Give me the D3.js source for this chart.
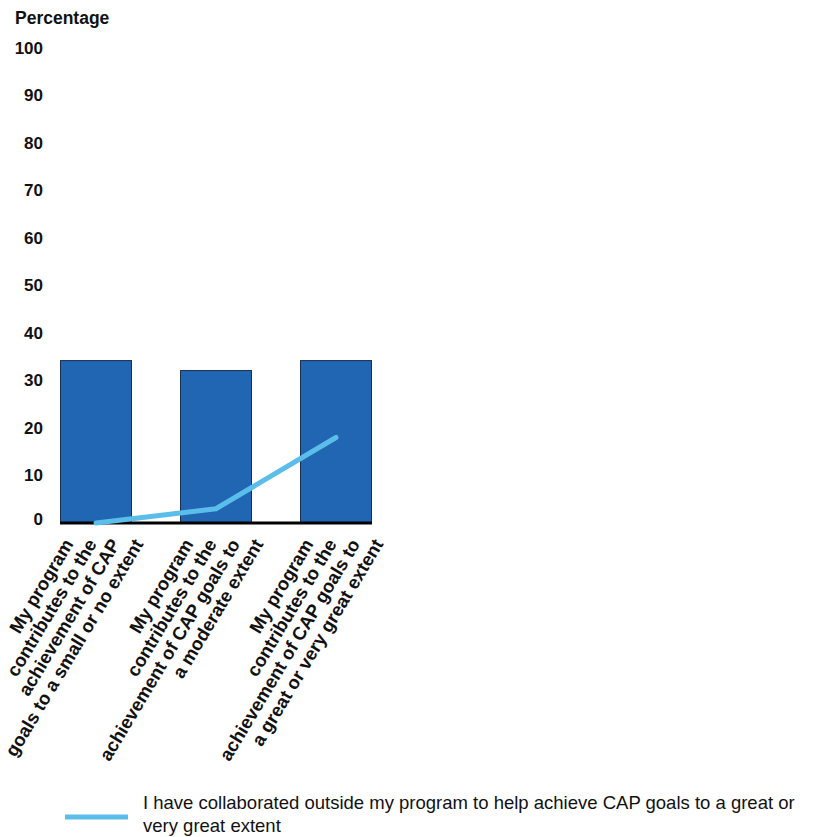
<!DOCTYPE html>
<html>
<head>
<meta charset="utf-8">
<script src="https://cdn.jsdelivr.net/npm/d3@7"></script>
<style>
  html, body { margin: 0; padding: 0; background: #fff; }
  svg { display: block; font-family: "Liberation Sans", Arial, sans-serif; }
</style>
</head>
<body>
<svg id="chart" width="814" height="837"></svg>
<script>
// Category labels, one array of wrapped lines per category
const categories = [
  ["My program", "contributes to the", "achievement of CAP", "goals to a small or no extent"],
  ["My program", "contributes to the", "achievement of CAP goals to", "a moderate extent"],
  ["My program", "contributes to the", "achievement of CAP goals to", "a great or very great extent"]
];
// Share of respondents per category (bars)
const barValues = [34.3, 32.2, 34.3];
// Share who collaborated outside their program (line)
const lineValues = [0, 3, 18];
const yTicks = [0, 10, 20, 30, 40, 50, 60, 70, 80, 90, 100];
const yTitle = "Percentage";
const legendLines = [
  "I have collaborated outside my program to help achieve CAP goals to a great or",
  "very great extent"
];

const barColor = "#2066b2";
const barStroke = "#1a2f4d";
const lineColor = "#5bbdea";

const svg = d3.select("#chart");

const x = d3.scaleBand()
  .domain(d3.range(categories.length))
  .range([60, 372])
  .paddingInner(0.4)
  .paddingOuter(0);

const y = d3.scaleLinear()
  .domain([0, 100])
  .range([523, 48]);

// Y axis title
svg.append("text")
  .attr("x", 15)
  .attr("y", 24)
  .attr("font-size", 17.5)
  .attr("font-weight", "bold")
  .attr("fill", "#111")
  .text(yTitle);

// Y axis: labels only
const yAxis = svg.append("g")
  .attr("transform", "translate(43,0)")
  .call(d3.axisLeft(y).tickValues(yTicks).tickSize(0).tickPadding(0).tickFormat(d3.format("d")));
yAxis.select(".domain").remove();
yAxis.selectAll("text")
  .attr("font-size", 17)
  .attr("font-weight", "bold")
  .attr("fill", "#111")
  .attr("font-family", "Liberation Sans, Arial, sans-serif")
  .attr("dy", d => d === 0 ? "0.08em" : "0.32em");

// Bars
svg.append("g")
  .selectAll("rect")
  .data(barValues)
  .join("rect")
  .attr("x", (d, i) => x(i) + 0.5)
  .attr("y", d => y(d) + 0.5)
  .attr("width", x.bandwidth() - 1)
  .attr("height", d => y(0) - y(d) - 0.5)
  .attr("fill", barColor)
  .attr("stroke", barStroke)
  .attr("stroke-width", 1);

// Baseline
svg.append("line")
  .attr("x1", x.range()[0])
  .attr("x2", x.range()[1])
  .attr("y1", y(0))
  .attr("y2", y(0))
  .attr("stroke", "#000")
  .attr("stroke-width", 3);

// Line series
const line = d3.line()
  .x((d, i) => x(i) + x.bandwidth() / 2)
  .y(d => y(d));
svg.append("path")
  .datum(lineValues)
  .attr("d", line)
  .attr("fill", "none")
  .attr("stroke", lineColor)
  .attr("stroke-width", 5)
  .attr("stroke-linecap", "round")
  .attr("stroke-linejoin", "round");

// Rotated category labels; line ends sit along a horizontal edge under the axis
const angle = 59;
const rad = angle * Math.PI / 180;
const lh = 20;
const labels = svg.append("g")
  .selectAll("g")
  .data(categories)
  .join("g")
  .attr("transform", (d, i) => `translate(${x(i) + x.bandwidth() / 2 - 22},544) rotate(${-angle})`);
labels.selectAll("text")
  .data(d => d)
  .join("text")
  .attr("x", (d, i) => i * lh / Math.tan(rad))
  .attr("y", (d, i) => i * lh)
  .attr("text-anchor", "end")
  .attr("font-size", 18.5)
  .attr("font-weight", "bold")
  .attr("fill", "#111")
  .text(d => d);

// Legend
const legend = svg.append("g");
legend.append("line")
  .attr("x1", 65).attr("x2", 128)
  .attr("y1", 817).attr("y2", 817)
  .attr("stroke", lineColor)
  .attr("stroke-width", 5);
legend.selectAll("text")
  .data(legendLines)
  .join("text")
  .attr("x", 143)
  .attr("y", (d, i) => 809 + i * 23)
  .attr("font-size", 18.5)
  .attr("fill", "#111")
  .text(d => d);
</script>
</body>
</html>
